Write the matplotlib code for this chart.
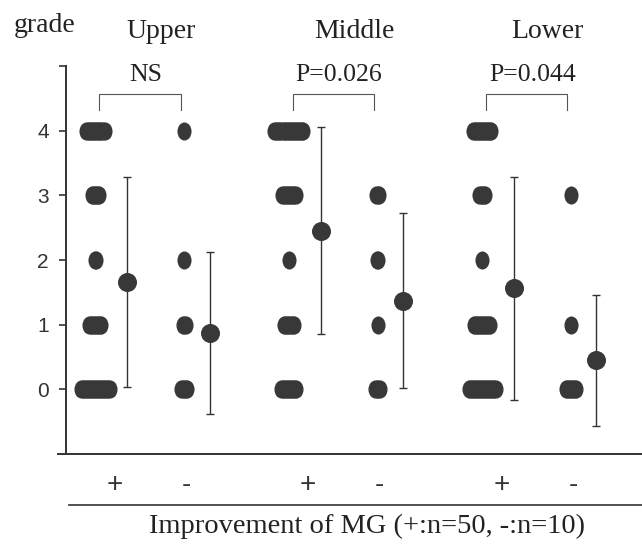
import matplotlib.pyplot as plt
import numpy as np
from matplotlib.path import Path
from matplotlib.transforms import Affine2D
from matplotlib.lines import Line2D

regions = ["Upper", "Middle", "Lower"]
p_labels = ["NS", "P=0.026", "P=0.044"]
grades = [0, 1, 2, 3, 4]

# patients per grade (0..4), improvement + (n=50) and - (n=10)
counts_plus = [[20, 9, 2, 6, 13], [11, 8, 1, 10, 20], [19, 12, 1, 5, 13]]
counts_minus = [[5, 3, 1, 0, 1], [4, 1, 2, 3, 0], [8, 1, 0, 1, 0]]

# mean +/- SD
mean_plus = [1.66, 2.45, 1.56]
sd_plus = [1.62, 1.60, 1.73]
mean_minus = [0.87, 1.37, 0.45]
sd_minus = [1.25, 1.35, 1.01]

DOT = "#383838"
LINE = "#333333"
SERIF = "Liberation Serif"
SANS = "Liberation Sans"

# layout offsets inside one region (units of region spacing)
OFF_PLUS, OFF_PLUS_MEAN, OFF_MINUS, OFF_MINUS_MEAN = 0.0, 0.165, 0.46, 0.59
STEP = 0.0078  # horizontal shift between overlapping dots

ellipse = Path.unit_circle().transformed(Affine2D().scale(0.78, 1.0))

fig = plt.figure(figsize=(6.42, 5.5), dpi=100)
ax = fig.add_axes([65.5 / 642, 96 / 550, (642 - 65.5) / 642, 388 / 550])


def draw_cluster(x0, counts):
    for g, n in zip(grades, counts):
        if n == 0:
            continue
        xs = x0 + (np.arange(n) - (n - 1) / 2) * STEP
        ax.plot(xs, [g] * n, linestyle="none", marker=ellipse, ms=13,
                color=DOT, mec="none")


for i, region in enumerate(regions):
    base = i
    draw_cluster(base + OFF_PLUS, counts_plus[i])
    draw_cluster(base + OFF_MINUS, counts_minus[i])
    for xoff, m, s in [(OFF_PLUS_MEAN, mean_plus[i], sd_plus[i]),
                       (OFF_MINUS_MEAN, mean_minus[i], sd_minus[i])]:
        ax.errorbar(base + xoff, m, yerr=s, fmt="o", ms=13.7, color=DOT,
                    mec="none", ecolor=LINE, elinewidth=1.0, capsize=2.9,
                    capthick=1.0, zorder=3)

    # bracket with p value
    bx0, bx1 = base + 0.02, base + 0.44
    ax.plot([bx0, bx0, bx1, bx1], [4.32, 4.56, 4.56, 4.32], color="#555555",
            lw=0.8, clip_on=False)
    ax.text(base + 0.26, 4.77, p_labels[i], ha="center", va="baseline",
            fontsize=18.5, family=SERIF, color="#222222", clip_on=False)
    ax.text(base + 0.34, 5.43, region, ha="center", va="baseline",
            fontsize=20, family=SERIF, color="#222222", clip_on=False)

    # + / - labels under the axis
    tr = ax.get_xaxis_transform()
    ax.text(base + 0.10, -0.08, "+", transform=tr, ha="center", va="center",
            fontsize=20, family=SANS, color="#333333")
    ax.text(base + 0.47, -0.08, "-", transform=tr, ha="center", va="center",
            fontsize=20, family=SANS, color="#333333")

ax.set_xlim(-0.155, 2.827)
ax.set_ylim(-1, 5)
ax.set_xticks([])
ax.set_yticks([0, 1, 2, 3, 4, 5], ["0", "1", "2", "3", "4", ""])
ax.tick_params(axis="y", length=5, width=1.2, pad=7, labelsize=15,
               colors=LINE)
for lbl in ax.get_yticklabels():
    lbl.set_family(SANS)
for side in ["top", "right", "bottom"]:
    ax.spines[side].set_visible(False)
ax.spines["left"].set_color(LINE)
ax.spines["left"].set_linewidth(1.4)

# x axis line and the line above the caption
fig.add_artist(Line2D([58 / 642, 1.0], [96 / 550, 96 / 550], color=LINE, lw=1.4))
fig.add_artist(Line2D([69 / 642, 1.0], [45 / 550, 45 / 550], color=LINE, lw=1.2))

fig.text(14 / 642, 1 - 32 / 550, "grade", fontsize=20, family=SERIF,
         va="baseline", color="#222222")
fig.text(367 / 642, 1 - 533 / 550, "Improvement of MG (+:n=50, -:n=10)",
         fontsize=20.5, family=SERIF, ha="center", va="baseline", color="#222222")

fig.savefig("out.png", dpi=100)
